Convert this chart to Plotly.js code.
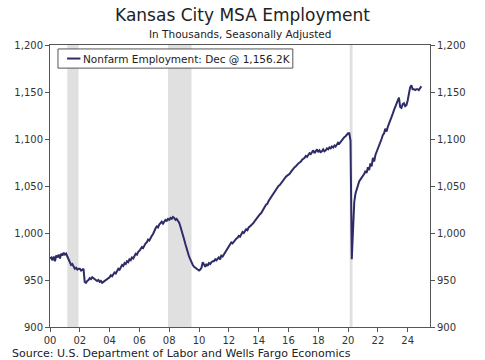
<!DOCTYPE html>
<html>
<head>
<meta charset="utf-8">
<script src="https://cdn.plot.ly/plotly-3.0.1.min.js"></script>
<style>html,body{margin:0;padding:0;background:#fff;}#chart{width:485px;height:360px;}</style>
</head>
<body>
<div id="chart"></div>
<script>
// Monthly Kansas City MSA nonfarm employment, thousands
const startYear = 2000;
const y2000 = [973, 974, 971, 975, 970, 976, 974, 977, 973, 978, 976, 979];
const y2001 = [977, 978, 975, 972, 968, 966, 967, 964, 962, 963, 961, 962];
const y2002 = [962, 960, 961, 962, 948, 947, 949, 950, 952, 951, 953, 952];
const y2003 = [951, 950, 949, 950, 948, 949, 947, 948, 949, 950, 951, 952];
const y2004 = [953, 955, 954, 956, 958, 957, 960, 962, 961, 964, 966, 965];
const y2005 = [968, 967, 970, 969, 972, 971, 974, 973, 976, 978, 977, 980];
const y2006 = [981, 983, 985, 984, 987, 989, 990, 993, 992, 995, 997, 999];
const y2007 = [1003, 1005, 1007, 1006, 1009, 1011, 1012, 1010, 1013, 1014, 1013, 1015];
const y2008 = [1014, 1016, 1015, 1017, 1016, 1014, 1015, 1013, 1011, 1007, 1003, 999];
const y2009 = [993, 988, 983, 979, 975, 972, 968, 966, 964, 963, 962, 961];
const y2010 = [960, 961, 963, 969, 966, 964, 967, 965, 968, 967, 969, 970];
const y2011 = [970, 972, 971, 973, 974, 972, 976, 975, 977, 979, 981, 983];
const y2012 = [986, 988, 990, 989, 991, 993, 994, 995, 997, 996, 999, 1001];
const y2013 = [1000, 1002, 1004, 1003, 1006, 1007, 1008, 1009, 1011, 1013, 1015, 1017];
const y2014 = [1018, 1020, 1021, 1024, 1026, 1028, 1030, 1031, 1034, 1036, 1039, 1041];
const y2015 = [1043, 1045, 1046, 1048, 1050, 1051, 1053, 1055, 1056, 1058, 1060, 1061];
const y2016 = [1062, 1063, 1065, 1067, 1068, 1070, 1071, 1073, 1074, 1075, 1076, 1078];
const y2017 = [1079, 1080, 1082, 1081, 1083, 1085, 1084, 1086, 1088, 1085, 1087, 1089];
const y2018 = [1086, 1088, 1086, 1087, 1089, 1087, 1088, 1090, 1089, 1091, 1090, 1092];
const y2019 = [1091, 1093, 1092, 1094, 1096, 1095, 1097, 1099, 1100, 1102, 1103, 1105];
const y2020 = [1106, 1106, 1098, 972, 1010, 1033, 1042, 1047, 1051, 1055, 1057, 1059];
const y2021 = [1060, 1063, 1066, 1064, 1070, 1067, 1074, 1071, 1080, 1076, 1083, 1086];
const y2022 = [1090, 1094, 1097, 1100, 1104, 1106, 1111, 1108, 1113, 1116, 1119, 1122];
const y2023 = [1127, 1131, 1134, 1137, 1140, 1144, 1134, 1133, 1137, 1138, 1135, 1136];
const y2024 = [1141, 1148, 1155, 1157, 1153, 1153, 1152, 1153, 1153, 1152, 1155, 1156.2];

const yearly = [y2000, y2001, y2002, y2003, y2004, y2005, y2006, y2007, y2008, y2009,
  y2010, y2011, y2012, y2013, y2014, y2015, y2016, y2017, y2018, y2019,
  y2020, y2021, y2022, y2023, y2024];

const seriesName = "Nonfarm Employment: Dec @ 1,156.2K";
const recessions = [["2001-03-01", "2001-11-30"], ["2007-12-01", "2009-06-30"], ["2020-02-10", "2020-04-20"]];
const yTicks = [900, 950, 1000, 1050, 1100, 1150, 1200];
const yTickText = ["900", "950", "1,000", "1,050", "1,100", "1,150", "1,200"];

const dates = [];
const values = [];
yearly.forEach((arr, i) => {
  arr.forEach((v, m) => {
    const mm = String(m + 1).padStart(2, "0");
    dates.push((startYear + i) + "-" + mm + "-01");
    values.push(v);
  });
});

const lineColor = "#2e2c66";
const axisColor = "#555555";
const fontFam = "DejaVu Sans, Verdana, sans-serif";
const tickFont = {family: fontFam, size: 10, color: "#333"};

const traces = [
  {x: dates, y: values, type: "scatter", mode: "lines",
   line: {color: lineColor, width: 2}, name: seriesName},
  {x: dates, y: values, type: "scatter", mode: "lines", yaxis: "y2",
   line: {color: "rgba(0,0,0,0)", width: 0}, showlegend: false, hoverinfo: "skip"}
];

const shapes = recessions.map(r => ({
  type: "rect", xref: "x", yref: "paper", x0: r[0], x1: r[1], y0: 0, y1: 1,
  fillcolor: "#e0e0e0", line: {width: 0}, layer: "below"
}));
// legend box and sample line
shapes.push({type: "rect", xref: "paper", yref: "paper", x0: 0.021, x1: 0.639, y0: 0.918, y1: 0.986,
  fillcolor: "#fff", line: {color: axisColor, width: 1}});
shapes.push({type: "line", xref: "paper", yref: "paper", x0: 0.045, x1: 0.080, y0: 0.952, y1: 0.952,
  line: {color: lineColor, width: 2}});

const yAxisCommon = {
  range: [900, 1200], tickvals: yTicks, ticktext: yTickText,
  ticks: "outside", ticklen: 4, tickcolor: axisColor, tickfont: tickFont,
  showgrid: false, zeroline: false, showline: true, linecolor: axisColor, linewidth: 1
};

const layout = {
  width: 485, height: 360,
  margin: {l: 50, r: 55, t: 45, b: 33},
  paper_bgcolor: "#fff", plot_bgcolor: "#fff",
  title: {text: "Kansas City MSA Employment", x: 0.5, xanchor: "center", y: 0.974, yanchor: "top",
    font: {family: fontFam, size: 17, color: "#222"}},
  annotations: [
    {text: "In Thousands, Seasonally Adjusted", xref: "paper", yref: "paper", x: 0.5, y: 1.0,
     xanchor: "center", yanchor: "bottom", yshift: 3, showarrow: false,
     font: {family: fontFam, size: 10.5, color: "#222"}},
    {text: seriesName, xref: "paper", yref: "paper", x: 0.082, y: 0.952,
     xanchor: "left", yanchor: "middle", showarrow: false,
     font: {family: fontFam, size: 10.5, color: "#222"}},
    {text: "Source: U.S. Department of Labor and Wells Fargo Economics", xref: "paper", yref: "paper",
     x: -0.105, y: -0.065, xanchor: "left", yanchor: "top", showarrow: false,
     font: {family: fontFam, size: 11, color: "#222"}}
  ],
  xaxis: {
    type: "date", range: ["2000-01-01", "2025-07-01"],
    tick0: "2000-01-01", dtick: "M24", tickformat: "%y",
    ticks: "outside", ticklen: 4, tickcolor: axisColor, tickfont: tickFont,
    showgrid: false, zeroline: false, showline: true, linecolor: axisColor, linewidth: 1,
    mirror: true
  },
  yaxis: Object.assign({}, yAxisCommon, {side: "left"}),
  yaxis2: Object.assign({}, yAxisCommon, {side: "right", overlaying: "y"}),
  showlegend: false,
  shapes: shapes
};

Plotly.newPlot("chart", traces, layout, {displayModeBar: false, staticPlot: true});
</script>
</body>
</html>
